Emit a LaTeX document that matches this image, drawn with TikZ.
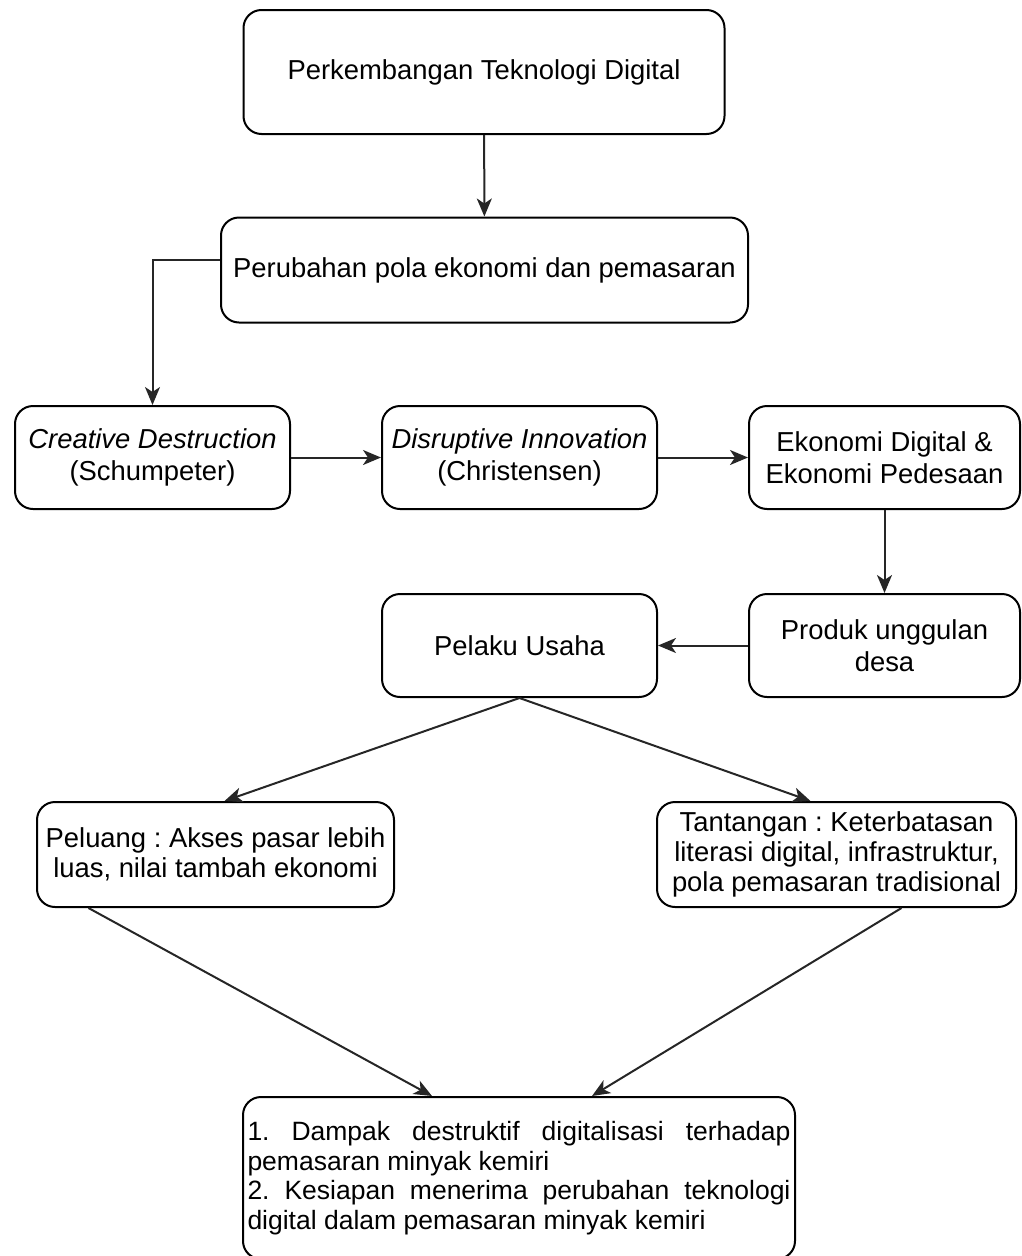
\documentclass[tikz,border=0pt]{standalone}
\usepackage{fontspec}
\setmainfont{Liberation Sans}
\usetikzlibrary{arrows.meta}
\frenchspacing
\begin{document}
\begin{tikzpicture}[x=1pt, y=-1pt, line width=2pt, >={Stealth[length=18pt,width=15pt,inset=5pt]},
  box/.style={draw, rounded corners=18pt, align=center, inner sep=2pt,
    font=\fontsize{27.4}{31.5}\selectfont},
  link/.style={->, black!85}]
  \useasboundingbox (0,0) rectangle (1021,1256);
  \node[box, minimum width=481, minimum height=124] (tek) at (484,72) {Perkembangan Teknologi Digital};
  \node[box, minimum width=527, minimum height=105] (pola) at (484.5,270) {Perubahan pola ekonomi dan pemasaran};
  \node[box, minimum width=275, minimum height=103] (cd) at (152.5,457.5) {\textit{Creative Destruction}\\(Schumpeter)};
  \node[box, minimum width=275, minimum height=103] (di) at (519.5,457.5) {\textit{Disruptive Innovation}\\(Christensen)};
  \node[box, minimum width=271, minimum height=103] (eko) at (884.5,457.5) {Ekonomi Digital \&\\Ekonomi Pedesaan};
  \node[box, minimum width=275, minimum height=103] (pelaku) at (519.5,645.5) {Pelaku Usaha};
  \node[box, minimum width=271, minimum height=103] (produk) at (884.5,645.5) {Produk unggulan\\desa};
  \node[box, minimum width=357, minimum height=105, font=\fontsize{27.4}{30}\selectfont] (peluang) at (215.5,854.5) {Peluang : Akses pasar lebih\\luas, nilai tambah ekonomi};
  \node[box, minimum width=359, minimum height=105, font=\fontsize{27.4}{30}\selectfont] (tantangan) at (836.5,854.5) {Tantangan : Keterbatasan\\literasi digital, infrastruktur,\\pola pemasaran tradisional};
  \node[box, minimum width=552, minimum height=162, text width=543, align=justify, font=\fontsize{26.5}{29.5}\selectfont] (dampak) at (519,1178)
    {1. Dampak destruktif digitalisasi terhadap\linebreak pemasaran minyak kemiri\\2. Kesiapan menerima perubahan teknologi\linebreak digital dalam pemasaran minyak kemiri};
  \draw[link] (tek) -- (pola);
  \draw[link] ([yshift=10pt]pola.west) -| (cd);
  \draw[link] (cd) -- (di);
  \draw[link] (di) -- (eko);
  \draw[link] (eko) -- (produk);
  \draw[link] (produk) -- (pelaku);
  \draw[link] (pelaku.south) -- ([xshift=9pt]peluang.north);
  \draw[link] (pelaku.south) -- ([xshift=-26pt]tantangan.north);
  \draw[link] ([xshift=-127pt]peluang.south) -- ([xshift=-87pt]dampak.north);
  \draw[link] ([xshift=65pt]tantangan.south) -- ([xshift=73pt]dampak.north);
\end{tikzpicture}
\end{document}
